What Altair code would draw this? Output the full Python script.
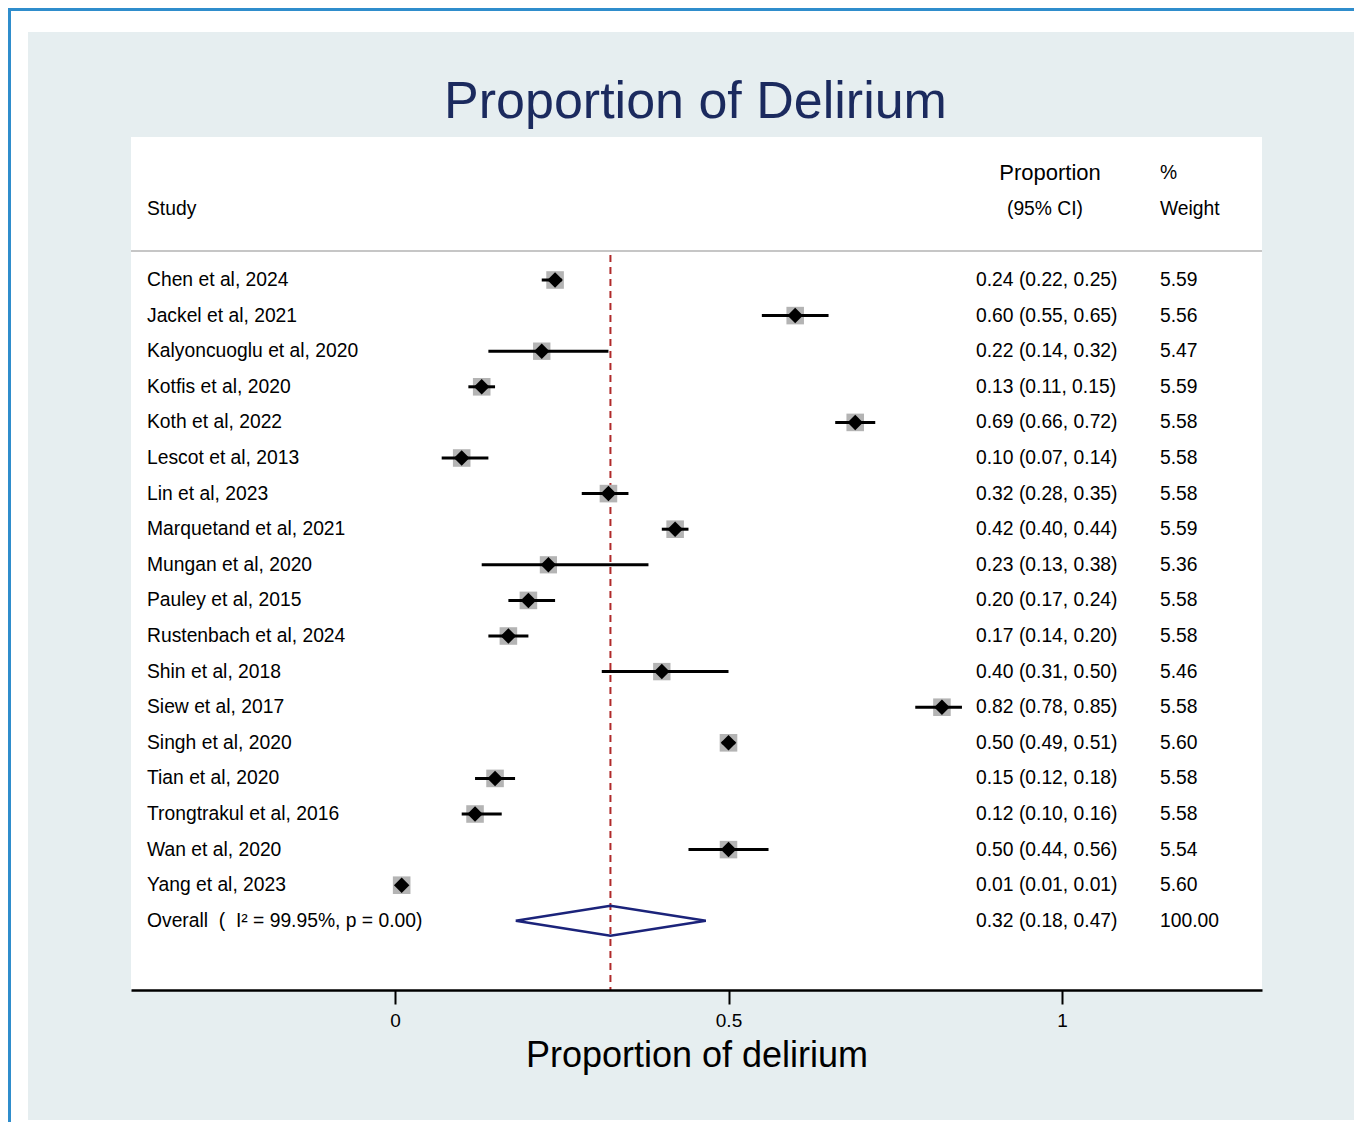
import altair as alt
import pandas as pd

# ---------------- data ----------------
studies = [
    "Chen et al, 2024", "Jackel et al, 2021", "Kalyoncuoglu et al, 2020",
    "Kotfis et al, 2020", "Koth et al, 2022", "Lescot et al, 2013",
    "Lin et al, 2023", "Marquetand et al, 2021", "Mungan et al, 2020",
    "Pauley et al, 2015", "Rustenbach et al, 2024", "Shin et al, 2018",
    "Siew et al, 2017", "Singh et al, 2020", "Tian et al, 2020",
    "Trongtrakul et al, 2016", "Wan et al, 2020", "Yang et al, 2023",
]
es = [0.24, 0.60, 0.22, 0.13, 0.69, 0.10, 0.32, 0.42, 0.23, 0.20, 0.17, 0.40,
      0.82, 0.50, 0.15, 0.12, 0.50, 0.01]
lo = [0.22, 0.55, 0.14, 0.11, 0.66, 0.07, 0.28, 0.40, 0.13, 0.17, 0.14, 0.31,
      0.78, 0.49, 0.12, 0.10, 0.44, 0.01]
hi = [0.25, 0.65, 0.32, 0.15, 0.72, 0.14, 0.35, 0.44, 0.38, 0.24, 0.20, 0.50,
      0.85, 0.51, 0.18, 0.16, 0.56, 0.01]
weights = [5.59, 5.56, 5.47, 5.59, 5.58, 5.58, 5.58, 5.59, 5.36, 5.58, 5.58,
           5.46, 5.58, 5.60, 5.58, 5.58, 5.54, 5.60]

overall_label = "Overall\u00a0\u00a0(\u00a0\u00a0I\u00b2 = 99.95%, p = 0.00)"
overall_es, overall_lo, overall_hi, overall_wt = 0.323, 0.181, 0.466, 100.00

x_ticks = [0, 0.5, 1]
chart_title = "Proportion of Delirium"
x_title = "Proportion of delirium"
headers_study = ["Study"]
header_ci_top = ["Proportion"]
header_ci_bottom = ["(95% CI)"]
headers_wt = ["%", "Weight"]

# ---------------- layout ----------------
FONT = "Liberation Sans"
W, H = 1131, 853
PAD_L, PAD_T = 123, 129
CANVAS_W, CANVAS_H = 1346, 1114
PAD_R = CANVAS_W - PAD_L - W
PAD_B = CANVAS_H - PAD_T - H

ROW_PX = 35.6
TOP_ROW = -143 / ROW_PX
BOTTOM_ROW = TOP_ROW + H / ROW_PX
PX_PER_UNIT = 667.0
X0 = -264 / PX_PER_UNIT
X1 = X0 + W / PX_PER_UNIT

x_scale = alt.Scale(domain=[X0, X1], nice=False, zero=False)
y_scale = alt.Scale(domain=[TOP_ROW, BOTTOM_ROW], nice=False, zero=False, reverse=True)
x_axis = alt.Axis(
    values=x_ticks, format="~g", grid=False, title=x_title, zindex=1,
    domainColor="black", domainWidth=2.5, tickColor="black", tickWidth=2,
    tickSize=14, labelFont=FONT, labelFontSize=19, labelColor="black",
    labelPadding=7, titleFont=FONT, titleFontSize=36, titleFontWeight="normal",
    titleColor="black", titlePadding=8, labelFlush=False,
)

def xe(field):
    return alt.X(field, type="quantitative", scale=x_scale, axis=x_axis)

def ye(field):
    return alt.Y(field, type="quantitative", scale=y_scale, axis=None)

n = len(studies)
df = pd.DataFrame({
    "study": studies, "es": es, "lo": lo, "hi": hi, "w": weights,
    "row": list(range(n)),
})
df["ci"] = [f"{e:.2f} ({l:.2f}, {h:.2f})" for e, l, h in zip(es, lo, hi)]
df["wt"] = [f"{w:.2f}" for w in weights]

rows_all = pd.concat([
    df[["study", "ci", "wt", "row"]],
    pd.DataFrame({
        "study": [overall_label],
        "ci": [f"{overall_es:.2f} ({overall_lo:.2f}, {overall_hi:.2f})"],
        "wt": [f"{overall_wt:.2f}"],
        "row": [n],
    }),
], ignore_index=True)

HALF_H = 0.42
poly = pd.DataFrame({
    "x": [overall_lo, overall_es, overall_hi, overall_es, overall_lo],
    "y": [n, n - HALF_H, n, n + HALF_H, n],
    "k": [0, 1, 2, 3, 4],
})
ov = pd.DataFrame({"es": [overall_es]})

one = pd.DataFrame({"a": [0]})

# ---------------- layers ----------------
panel = alt.Chart(one).mark_rect(color="#e6eef0").encode(
    x=alt.value(-103), x2=alt.value(W + PAD_R), y=alt.value(-105), y2=alt.value(983))
border_left = alt.Chart(one).mark_rect(color="#2f8dcc").encode(
    x=alt.value(-PAD_L), x2=alt.value(-PAD_L + 3), y=alt.value(-PAD_T), y2=alt.value(H + PAD_B))
border_top = alt.Chart(one).mark_rect(color="#2f8dcc").encode(
    x=alt.value(-PAD_L), x2=alt.value(W + PAD_R), y=alt.value(-PAD_T), y2=alt.value(-PAD_T + 3))
plot_bg = alt.Chart(one).mark_rect(color="white").encode(
    x=alt.value(0), x2=alt.value(W), y=alt.value(0), y2=alt.value(H))

title = alt.Chart(pd.DataFrame({"t": [chart_title]})).mark_text(
    font=FONT, fontSize=52, color="#1b2a5e", align="center", baseline="alphabetic"
).encode(x=alt.value(W / 2 - 1), y=alt.value(-19), text="t:N")

header_line = alt.Chart(one).mark_rule(color="#c6c6c6", strokeWidth=2).encode(
    x=alt.value(0), x2=alt.value(W), y=alt.value(114))

ref_line = alt.Chart(ov).mark_rule(color="#b02a2a", strokeWidth=2, strokeDash=[7, 5]).encode(
    x=xe("es"), y=alt.value(118), y2=alt.value(H))

boxes = alt.Chart(df).mark_point(shape="square", filled=True, color="#b4b4b4", opacity=1).encode(
    x=xe("es"), y=ye("row"),
    size=alt.Size("w:Q", scale=alt.Scale(domain=[0, 5.6], range=[0, 310]), legend=None))

ci = alt.Chart(df).mark_rule(color="black", strokeWidth=3).encode(
    x=xe("lo"), x2="hi", y=ye("row"))

diamonds = alt.Chart(df).mark_point(shape="diamond", filled=True, color="black", opacity=1, size=240).encode(
    x=xe("es"), y=ye("row"))

overall = alt.Chart(poly).mark_line(color="#1b237a", strokeWidth=2.5, strokeJoin="miter").encode(
    x=xe("x"), y=ye("y"), order="k:Q")

txt = dict(font=FONT, fontSize=19.3, color="#000000", baseline="middle")

study_txt = alt.Chart(rows_all).mark_text(align="left", **txt).encode(
    x=alt.value(16), y=ye("row"), text="study:N")
ci_txt = alt.Chart(rows_all).mark_text(align="left", **txt).encode(
    x=alt.value(845), y=ye("row"), text="ci:N")
wt_txt = alt.Chart(rows_all).mark_text(align="left", **txt).encode(
    x=alt.value(1029), y=ye("row"), text="wt:N")

hs = alt.Chart(pd.DataFrame({"t": headers_study, "row": [-2]})).mark_text(align="left", **txt).encode(
    x=alt.value(16), y=ye("row"), text="t:N")
hc1 = alt.Chart(pd.DataFrame({"t": header_ci_top, "row": [-3]})).mark_text(
    align="center", font=FONT, fontSize=22, color="#000000", baseline="middle").encode(
    x=alt.value(919), y=ye("row"), text="t:N")
hc2 = alt.Chart(pd.DataFrame({"t": header_ci_bottom, "row": [-2]})).mark_text(align="center", **txt).encode(
    x=alt.value(914), y=ye("row"), text="t:N")
hw = alt.Chart(pd.DataFrame({"t": headers_wt, "row": [-3, -2]})).mark_text(align="left", **txt).encode(
    x=alt.value(1029), y=ye("row"), text="t:N")

chart = alt.layer(
    panel, border_left, border_top, plot_bg, title, header_line,
    ref_line, boxes, ci, diamonds, overall,
    study_txt, ci_txt, wt_txt, hs, hc1, hc2, hw,
).properties(
    width=W, height=H,
    padding={"left": PAD_L, "top": PAD_T, "right": PAD_R, "bottom": PAD_B},
    autosize=alt.AutoSizeParams(type="none"),
).configure(background="white").configure_view(stroke="transparent")

chart.save("out.html", embed_options={"renderer": "svg", "actions": False})
